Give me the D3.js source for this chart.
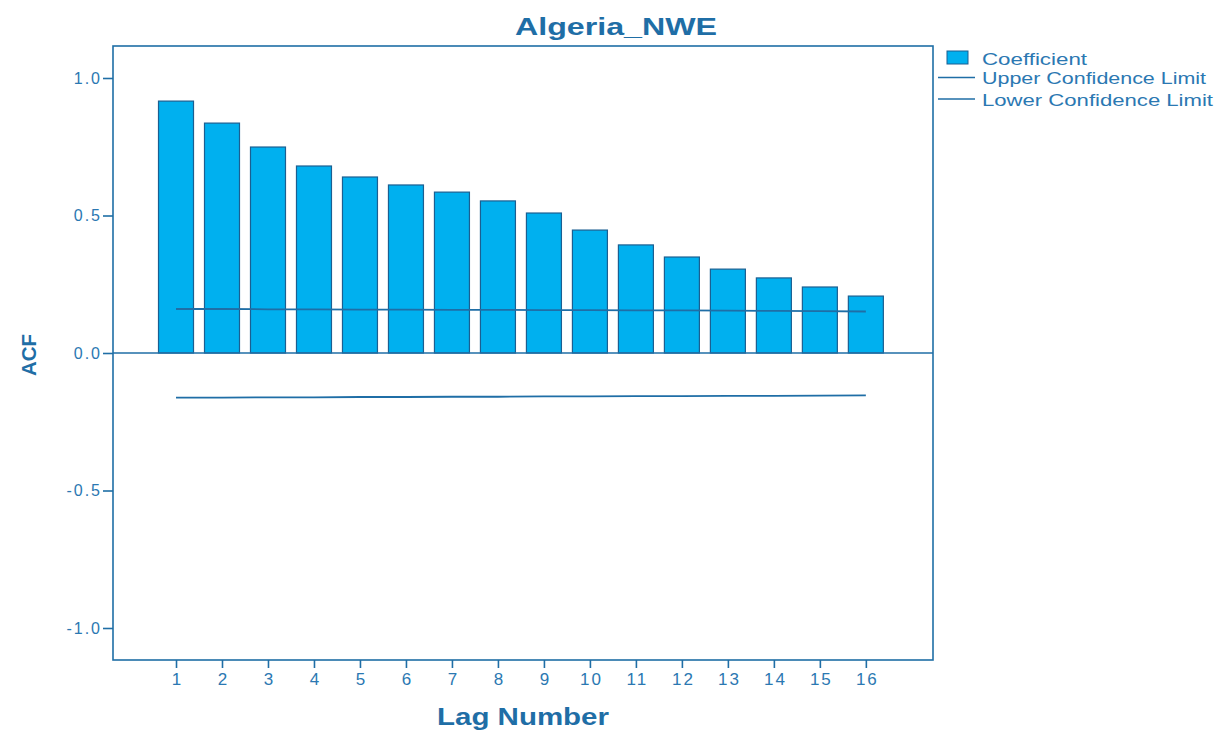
<!DOCTYPE html>
<html>
<head>
<meta charset="utf-8">
<script src="https://cdn.jsdelivr.net/npm/d3@7"></script>
<style>
  body { margin: 0; background: #fff; }
  text { font-family: "Liberation Sans", Arial, sans-serif; }
</style>
</head>
<body>
<div id="chart"></div>
<script>
// ACF values
const lags = [1, 2, 3, 4, 5, 6, 7, 8, 9, 10, 11, 12, 13, 14, 15, 16];
const coefficient = [0.916, 0.836, 0.749, 0.680, 0.640, 0.611, 0.585, 0.553, 0.509, 0.447, 0.393, 0.349, 0.305, 0.273, 0.240, 0.207];
const upperLimit = [0.160, 0.160, 0.159, 0.159, 0.158, 0.158, 0.157, 0.157, 0.156, 0.156, 0.155, 0.155, 0.154, 0.153, 0.152, 0.151];
const lowerLimit = [-0.162, -0.162, -0.161, -0.161, -0.160, -0.160, -0.159, -0.159, -0.158, -0.158, -0.157, -0.157, -0.156, -0.156, -0.155, -0.154];
const yTicks = [-1.0, -0.5, 0.0, 0.5, 1.0];
const legendItems = ["Coefficient", "Upper Confidence Limit", "Lower Confidence Limit"];
const legendWidths = [105, 224, 231];

const blue = "#1f6ea6";
const textBlue = "#2b78b2";

const width = 1216, height = 730;
const plot = { left: 113, right: 933, top: 46, bottom: 660 };

const svg = d3.select("#chart")
  .append("svg")
  .attr("width", width)
  .attr("height", height);

const x = d3.scaleLinear()
  .domain([-0.37, 17.46])
  .range([plot.left, plot.right]);

const y = d3.scaleLinear()
  .domain([-1.12, 1.12])
  .range([661, 45]);

// frame
svg.append("rect")
  .attr("x", plot.left)
  .attr("y", plot.top)
  .attr("width", plot.right - plot.left)
  .attr("height", plot.bottom - plot.top)
  .attr("fill", "none")
  .attr("stroke", blue)
  .attr("stroke-width", 1.6);

// y axis
const yAxis = svg.append("g")
  .attr("transform", `translate(${plot.left},0)`)
  .call(d3.axisLeft(y).tickValues(yTicks).tickFormat(d => d.toFixed(1)).tickSize(10).tickPadding(1));
yAxis.select(".domain").remove();
yAxis.selectAll("line").attr("stroke", blue).attr("stroke-width", 1.6);
yAxis.selectAll("text")
  .attr("fill", textBlue)
  .style("font-size", "16px")
  .style("letter-spacing", "2px");

// x axis
const xAxis = svg.append("g")
  .attr("transform", `translate(0,${plot.bottom})`)
  .call(d3.axisBottom(x).tickValues(lags).tickFormat(d3.format("d")).tickSize(8).tickPadding(5));
xAxis.select(".domain").remove();
xAxis.selectAll("line").attr("stroke", blue).attr("stroke-width", 1.6);
xAxis.selectAll("text")
  .attr("fill", textBlue)
  .attr("dx", "1px")
  .style("font-size", "17px")
  .style("letter-spacing", "2px");

// bars
const barW = 35;
svg.selectAll("rect.bar")
  .data(lags)
  .enter()
  .append("rect")
  .attr("class", "bar")
  .attr("x", (d, i) => x(d) - barW / 2)
  .attr("y", (d, i) => y(coefficient[i]))
  .attr("width", barW)
  .attr("height", (d, i) => y(0) - y(coefficient[i]))
  .attr("fill", "#00b0ef")
  .attr("stroke", "#1b5f91")
  .attr("stroke-width", 1.2);

// zero line
svg.append("line")
  .attr("x1", plot.left)
  .attr("x2", plot.right)
  .attr("y1", y(0))
  .attr("y2", y(0))
  .attr("stroke", blue)
  .attr("stroke-width", 1.6);

// confidence limits
const line = d3.line()
  .x((d, i) => x(lags[i]))
  .y(d => y(d));

[upperLimit, lowerLimit].forEach(arr => {
  svg.append("path")
    .datum(arr)
    .attr("fill", "none")
    .attr("stroke", "#1f6ea6")
    .attr("stroke-width", 1.8)
    .attr("d", line);
});

// title
svg.append("text")
  .attr("x", 515)
  .attr("y", 35)
  .attr("fill", blue)
  .attr("textLength", 202)
  .attr("lengthAdjust", "spacingAndGlyphs")
  .style("font-size", "24px")
  .style("font-weight", "bold")
  .text("Algeria_NWE");

// axis titles
svg.append("text")
  .attr("x", 437)
  .attr("y", 725)
  .attr("fill", blue)
  .attr("textLength", 172)
  .attr("lengthAdjust", "spacingAndGlyphs")
  .style("font-size", "23px")
  .style("font-weight", "bold")
  .text("Lag Number");

svg.append("text")
  .attr("transform", `translate(36,376) rotate(-90)`)
  .attr("fill", blue)
  .attr("textLength", 42)
  .attr("lengthAdjust", "spacingAndGlyphs")
  .style("font-size", "21px")
  .style("font-weight", "bold")
  .text("ACF");

// legend
const legend = svg.append("g");
legend.append("rect")
  .attr("x", 947)
  .attr("y", 51)
  .attr("width", 21)
  .attr("height", 13)
  .attr("fill", "#00b0ef")
  .attr("stroke", "#1b5f91")
  .attr("stroke-width", 1);

[77.5, 99].forEach(ly => {
  legend.append("line")
    .attr("x1", 938)
    .attr("x2", 975)
    .attr("y1", ly)
    .attr("y2", ly)
    .attr("stroke", blue)
    .attr("stroke-width", 1.6);
});

legend.selectAll("text")
  .data(legendItems)
  .enter()
  .append("text")
  .attr("x", 982)
  .attr("y", (d, i) => [65, 84, 106][i])
  .attr("fill", textBlue)
  .attr("textLength", (d, i) => legendWidths[i])
  .attr("lengthAdjust", "spacingAndGlyphs")
  .style("font-size", "16px")
  .text(d => d);
</script>
</body>
</html>
